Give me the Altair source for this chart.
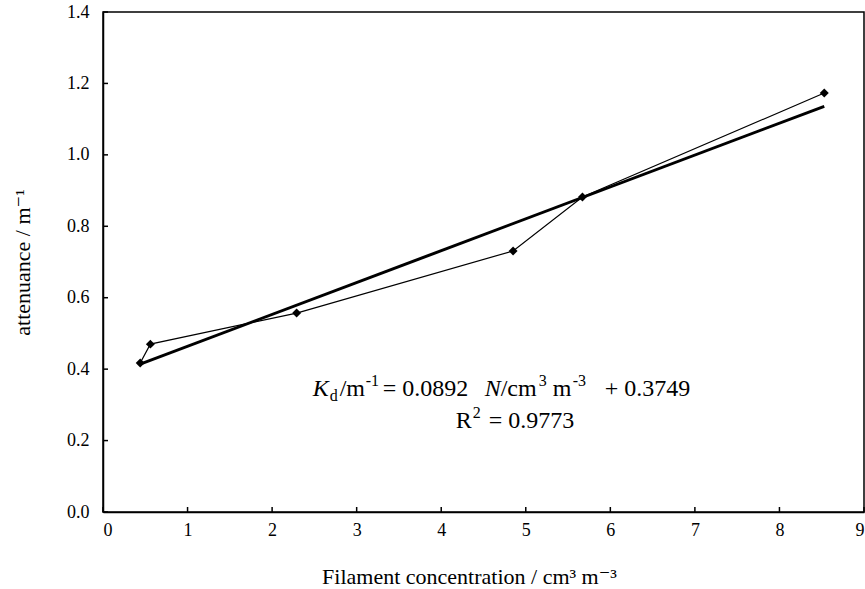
import altair as alt
import pandas as pd

# ---- data ----
conc = [0.44, 0.56, 2.29, 4.85, 5.67, 8.53]
atten = [0.417, 0.470, 0.557, 0.731, 0.882, 1.173]
fit_conc = [0.44, 8.53]
fit_atten = [0.414, 1.136]
x_ticks = [0, 1, 2, 3, 4, 5, 6, 7, 8, 9]
y_ticks = [0.0, 0.2, 0.4, 0.6, 0.8, 1.0, 1.2, 1.4]

W, H = 761, 500
FONT = "Liberation Serif, Times New Roman, DejaVu Serif, serif"

pts = pd.DataFrame({"conc": conc, "atten": atten})
fit = pd.DataFrame({"conc": fit_conc, "atten": fit_atten})

xs = alt.Scale(domain=[0, 9], nice=False, zero=False)
ys = alt.Scale(domain=[0, 1.4], nice=False, zero=False)

x_axis = alt.Axis(
    values=x_ticks, format="d", tickSize=0, labelPadding=9,
    labelFont=FONT, labelFontSize=18, labelColor="black",
    domainColor="black", domainWidth=1.5, grid=False,
    title="Filament concentration / cm³ m⁻³", titleFont=FONT, titleFontSize=22,
    titleFontWeight="normal", titleColor="black",
    titleX=366, titleY=71, titleAlign="center", titleBaseline="alphabetic",
)
y_axis = alt.Axis(
    values=y_ticks, format=".1f", tickSize=0, labelPadding=14,
    labelFont=FONT, labelFontSize=18, labelColor="black",
    domainColor="black", domainWidth=1.5, grid=False,
    title="attenuance / m⁻¹", titleFont=FONT, titleFontSize=22,
    titleFontWeight="normal", titleColor="black",
    titleX=-81, titleY=250, titleAngle=-90, titleAlign="center", titleBaseline="middle",
)

X = alt.X("conc:Q", scale=xs)
Y = alt.Y("atten:Q", scale=ys)

data_line = alt.Chart(pts).mark_line(color="black", strokeWidth=1.2).encode(
    x=alt.X("conc:Q", scale=xs, axis=x_axis),
    y=alt.Y("atten:Q", scale=ys, axis=y_axis),
)
markers = alt.Chart(pts).mark_point(
    shape="diamond", filled=True, color="black", size=80, opacity=1
).encode(x=X, y=Y)
fit_line = alt.Chart(fit).mark_line(color="black", strokeWidth=3).encode(x=X, y=Y)

# inward tick marks
xt = alt.Chart(pd.DataFrame({"conc": x_ticks})).mark_rule(color="black", strokeWidth=1.5).encode(
    x=X, y=alt.value(H), y2=alt.value(H - 5)
)
yt = alt.Chart(pd.DataFrame({"atten": y_ticks})).mark_rule(color="black", strokeWidth=1.5).encode(
    y=Y, x=alt.value(0), x2=alt.value(5)
)

# equation annotation, anchored in data coordinates
anchor = pd.DataFrame({"conc": [2.48], "atten": [0.325]})
pieces = [
    # text, dx, dy, size, style
    ("K", 0, 0, 24, "italic"),
    ("d", 17, 5, 16, "normal"),
    ("/m", 27, 0, 24, "normal"),
    ("-1", 53, -10, 16, "normal"),
    ("= 0.0892", 70, 0, 24, "normal"),
    ("N", 172, 0, 24, "italic"),
    ("/cm", 188, 0, 24, "normal"),
    ("3", 226, -10, 16, "normal"),
    ("m", 240, 0, 24, "normal"),
    ("-3", 260, -10, 16, "normal"),
    ("+ 0.3749", 292, 0, 24, "normal"),
    ("R", 143, 32, 24, "normal"),
    ("2", 160, 22, 16, "normal"),
    ("= 0.9773", 176, 32, 24, "normal"),
]
texts = []
for t, dx, dy, sz, st in pieces:
    texts.append(
        alt.Chart(anchor).mark_text(
            text=t, dx=dx, dy=dy, align="left", baseline="alphabetic",
            font=FONT, fontSize=sz, fontStyle=st, color="black",
        ).encode(x=X, y=Y)
    )

chart = alt.layer(data_line, fit_line, markers, xt, yt, *texts).properties(
    width=W, height=H,
    autosize=alt.AutoSizeParams(type="none"),
    padding={"left": 103, "top": 12, "right": 1, "bottom": 77},
    background="white",
).configure_view(stroke="black", strokeWidth=1.5)

chart.save("out.html", embed_options={"renderer": "svg", "actions": False})
